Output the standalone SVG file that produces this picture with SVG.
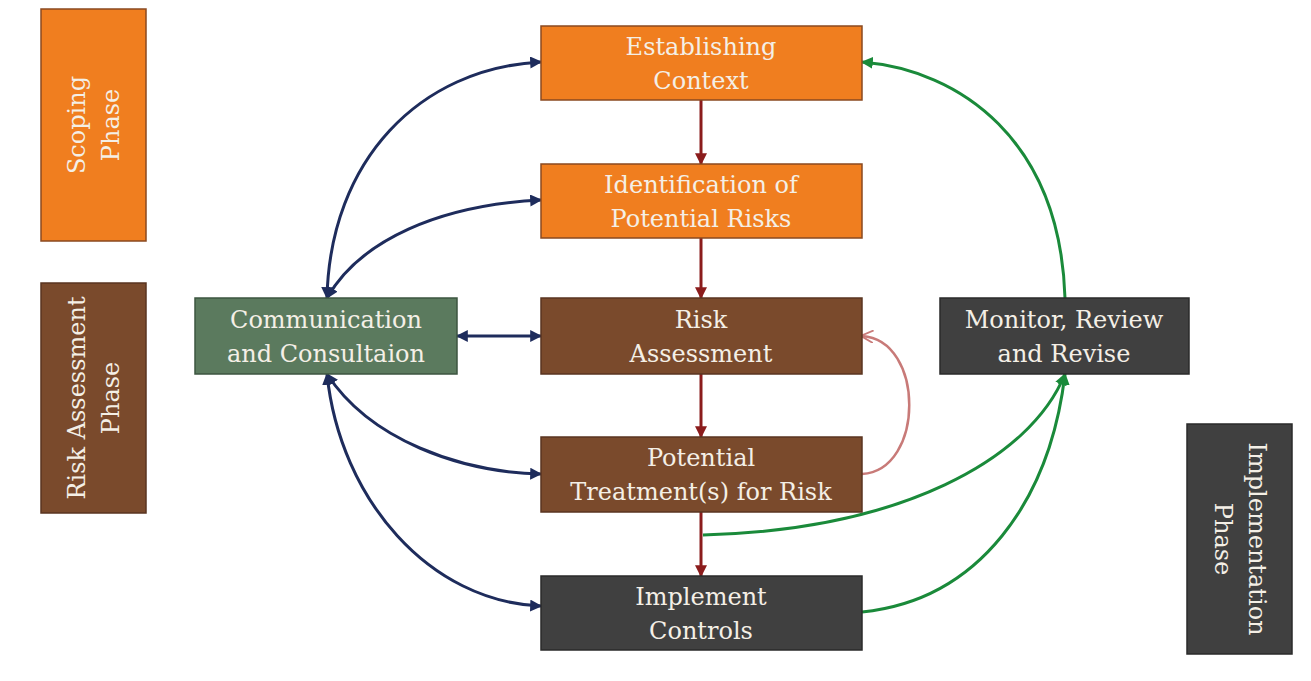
<svg xmlns="http://www.w3.org/2000/svg" width="1311" height="681" viewBox="0 0 1311 681">
<defs>
<style>
.lbl{font-family:"DejaVu Serif",serif;font-size:24px;text-anchor:middle;fill:#f4efe6}
.org{fill:#f07e1f;stroke:#8a4a20;stroke-width:1.5}
.brn{fill:#7a4a2c;stroke:#5a3520;stroke-width:1.5}
.drk{fill:#404040;stroke:#2a2a2a;stroke-width:1.5}
.grn{fill:#5b7a5e;stroke:#3c5540;stroke-width:1.5}
.red{stroke:#8b1c1c;stroke-width:3;fill:none}
.blu{stroke:#1e2c5c;stroke-width:3;fill:none}
.gre{stroke:#1a8a3a;stroke-width:3;fill:none}
.pnk{stroke:#c87a78;stroke-width:2.5;fill:none}
</style>
<marker id="ar" viewBox="0 0 10 10" refX="9" refY="5" markerWidth="4" markerHeight="4" orient="auto-start-reverse"><path d="M0,0 L10,5 L0,10 z" fill="#8b1c1c"/></marker>
<marker id="ab" viewBox="0 0 10 10" refX="9" refY="5" markerWidth="4" markerHeight="4" orient="auto-start-reverse"><path d="M0,0 L10,5 L0,10 z" fill="#1e2c5c"/></marker>
<marker id="ag" viewBox="0 0 10 10" refX="9" refY="5" markerWidth="4" markerHeight="4" orient="auto-start-reverse"><path d="M0,0 L10,5 L0,10 z" fill="#1a8a3a"/></marker>
<marker id="ap" viewBox="0 0 10 10" refX="9" refY="5" markerWidth="5" markerHeight="5" orient="auto-start-reverse"><path d="M0,0 L10,5 L0,10" fill="none" stroke="#c87a78" stroke-width="1.5"/></marker>
</defs>
<rect width="1311" height="681" fill="#ffffff"/>
<g id="connectors">
<path class="red" d="M701,100 L701,164" marker-end="url(#ar)"/>
<path class="red" d="M701,238 L701,298" marker-end="url(#ar)"/>
<path class="red" d="M701,374 L701,437" marker-end="url(#ar)"/>
<path class="red" d="M701,512 L701,576" marker-end="url(#ar)"/>
<path class="blu" d="M327,298 C330,160 420,68 541,62" marker-start="url(#ab)" marker-end="url(#ab)"/>
<path class="blu" d="M327,298 C360,240 440,205 541,200" marker-start="url(#ab)" marker-end="url(#ab)"/>
<path class="blu" d="M457,336 L541,336" marker-start="url(#ab)" marker-end="url(#ab)"/>
<path class="blu" d="M327,374 C370,440 460,472 541,474" marker-start="url(#ab)" marker-end="url(#ab)"/>
<path class="blu" d="M327,374 C340,500 430,602 541,606" marker-start="url(#ab)" marker-end="url(#ab)"/>
<path class="pnk" d="M862,474 C925,470 925,340 862,336" marker-end="url(#ap)"/>
<path class="gre" d="M1065,298 C1060,140 960,70 862,62" marker-end="url(#ag)"/>
<path class="gre" d="M703,535 C900,530 1030,460 1065,374" marker-end="url(#ag)"/>
<path class="gre" d="M862,612 C980,600 1050,500 1065,374" marker-end="url(#ag)"/>
</g>
<g id="scoping-phase">
<rect class="org" x="41" y="9" width="105" height="232"/>
<text class="lbl" transform="translate(93.5,125) rotate(-90)"><tspan x="0" y="-9">Scoping</tspan><tspan x="0" y="25">Phase</tspan></text>
</g>
<g id="risk-assessment-phase">
<rect class="brn" x="41" y="283" width="105" height="230"/>
<text class="lbl" transform="translate(93.5,398) rotate(-90)"><tspan x="0" y="-9">Risk Assessment</tspan><tspan x="0" y="25">Phase</tspan></text>
</g>
<g id="implementation-phase">
<rect class="drk" x="1187" y="424" width="105" height="230"/>
<text class="lbl" transform="translate(1239.5,539) rotate(90)"><tspan x="0" y="-9">Implementation</tspan><tspan x="0" y="25">Phase</tspan></text>
</g>
<g id="establishing-context">
<rect class="org" x="541" y="26" width="321" height="74"/>
<text class="lbl"><tspan x="701" y="55">Establishing</tspan><tspan x="701" y="89">Context</tspan></text>
</g>
<g id="identification">
<rect class="org" x="541" y="164" width="321" height="74"/>
<text class="lbl"><tspan x="701" y="193">Identification of</tspan><tspan x="701" y="227">Potential Risks</tspan></text>
</g>
<g id="risk-assessment">
<rect class="brn" x="541" y="298" width="321" height="76"/>
<text class="lbl"><tspan x="701" y="328">Risk</tspan><tspan x="701" y="362">Assessment</tspan></text>
</g>
<g id="potential-treatment">
<rect class="brn" x="541" y="437" width="321" height="75"/>
<text class="lbl"><tspan x="701" y="466">Potential</tspan><tspan x="701" y="500">Treatment(s) for Risk</tspan></text>
</g>
<g id="implement-controls">
<rect class="drk" x="541" y="576" width="321" height="74"/>
<text class="lbl"><tspan x="701" y="605">Implement</tspan><tspan x="701" y="639">Controls</tspan></text>
</g>
<g id="communication">
<rect class="grn" x="195" y="298" width="262" height="76"/>
<text class="lbl"><tspan x="326" y="328">Communication</tspan><tspan x="326" y="362">and Consultaion</tspan></text>
</g>
<g id="monitor">
<rect class="drk" x="940" y="298" width="249" height="76"/>
<text class="lbl"><tspan x="1064" y="328">Monitor, Review</tspan><tspan x="1064" y="362">and Revise</tspan></text>
</g>
</svg>
